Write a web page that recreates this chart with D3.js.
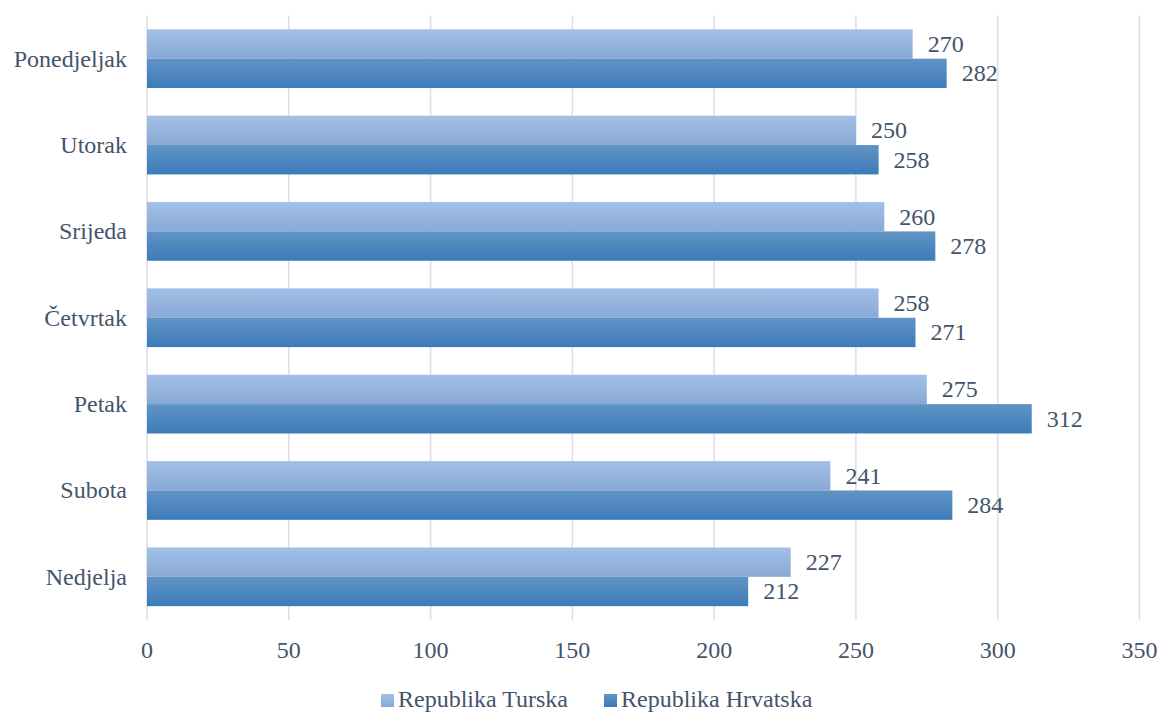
<!DOCTYPE html>
<html>
<head>
<meta charset="utf-8">
<script src="https://cdn.jsdelivr.net/npm/d3@7/dist/d3.min.js"></script>
<style>
  html, body { margin: 0; padding: 0; background: #fff; }
  svg { display: block; }
</style>
</head>
<body>
<svg id="chart" width="1164" height="713"></svg>
<script>
const days = ["Ponedjeljak", "Utorak", "Srijeda", "Četvrtak", "Petak", "Subota", "Nedjelja"];
const turska = [270, 250, 260, 258, 275, 241, 227];
const hrvatska = [282, 258, 278, 271, 312, 284, 212];
const seriesNames = ["Republika Turska", "Republika Hrvatska"];
const xTicks = [0, 50, 100, 150, 200, 250, 300, 350];

const FONT = '"Liberation Serif", "Times New Roman", serif';
const FS = 24;
const TXT = "#44546a";

// Shared text styling
function styleText(sel) {
  return sel.style("font-family", FONT).style("font-size", FS + "px").style("fill", TXT);
}

const svg = d3.select("#chart");
const margin = { left: 147, right: 1164 - 1139.5, top: 15.5, bottom: 713 - 620 };
const width = 1164, height = 713;

const x = d3.scaleLinear().domain([0, 350]).range([margin.left, width - margin.right]);
const y = d3.scaleBand().domain(days).range([margin.top, height - margin.bottom]).paddingInner(0.32).paddingOuter(0.16);
const ySub = d3.scaleBand().domain(seriesNames).range([0, y.bandwidth()]);

// Gradients for the two series
const defs = svg.append("defs");
const grads = [
  { id: "gTurska", stops: ["#a2c0e7", "#88a9d6"] },
  { id: "gHrvatska", stops: ["#6194c5", "#3c7bb9"] }
];
grads.forEach(g => {
  const lg = defs.append("linearGradient").attr("id", g.id).attr("x1", 0).attr("y1", 0).attr("x2", 0).attr("y2", 1);
  lg.append("stop").attr("offset", "0%").attr("stop-color", g.stops[0]);
  lg.append("stop").attr("offset", "100%").attr("stop-color", g.stops[1]);
});

// Vertical gridlines
svg.append("g")
  .selectAll("line")
  .data(xTicks)
  .join("line")
  .attr("x1", d => x(d)).attr("x2", d => x(d))
  .attr("y1", margin.top).attr("y2", height - margin.bottom)
  .attr("stroke", "#dadee5").attr("stroke-width", 1.5);

// X axis tick labels
svg.append("g")
  .selectAll("text")
  .data(xTicks)
  .join("text")
  .attr("x", d => x(d)).attr("y", 658)
  .attr("text-anchor", "middle")
  .call(styleText)
  .text(d => d);

// Category labels
svg.append("g")
  .selectAll("text")
  .data(days)
  .join("text")
  .attr("x", 127).attr("y", d => y(d) + y.bandwidth() / 2)
  .attr("dy", "0.33em")
  .attr("text-anchor", "end")
  .call(styleText)
  .text(d => d);

const rows = days.map((d, i) => ({ day: d, vals: [turska[i], hrvatska[i]] }));

const groups = svg.append("g").selectAll("g")
  .data(rows)
  .join("g")
  .attr("transform", d => `translate(0,${y(d.day)})`);

groups.selectAll("rect")
  .data(d => d.vals.map((v, j) => ({ v, s: seriesNames[j], j })))
  .join("rect")
  .attr("x", x(0))
  .attr("y", d => ySub(d.s))
  .attr("width", d => x(d.v) - x(0))
  .attr("height", ySub.bandwidth())
  .attr("fill", d => `url(#${grads[d.j].id})`);

groups.selectAll("text")
  .data(d => d.vals.map((v, j) => ({ v, s: seriesNames[j], j })))
  .join("text")
  .attr("x", d => x(d.v) + 15)
  .attr("y", d => ySub(d.s) + ySub.bandwidth() / 2)
  .attr("dy", "0.33em")
  .call(styleText)
  .text(d => d.v);

// Legend
const legendItems = [
  { name: seriesNames[0], x: 381, g: grads[0].id },
  { name: seriesNames[1], x: 604, g: grads[1].id }
];
const lg = svg.append("g").selectAll("g")
  .data(legendItems)
  .join("g")
  .attr("transform", d => `translate(${d.x},707)`);
lg.append("rect").attr("x", 0).attr("y", -13).attr("width", 13).attr("height", 13)
  .attr("fill", d => `url(#${d.g})`);
lg.append("text").attr("x", 17).attr("y", 0)
  .call(styleText)
  .text(d => d.name);
</script>
</body>
</html>
